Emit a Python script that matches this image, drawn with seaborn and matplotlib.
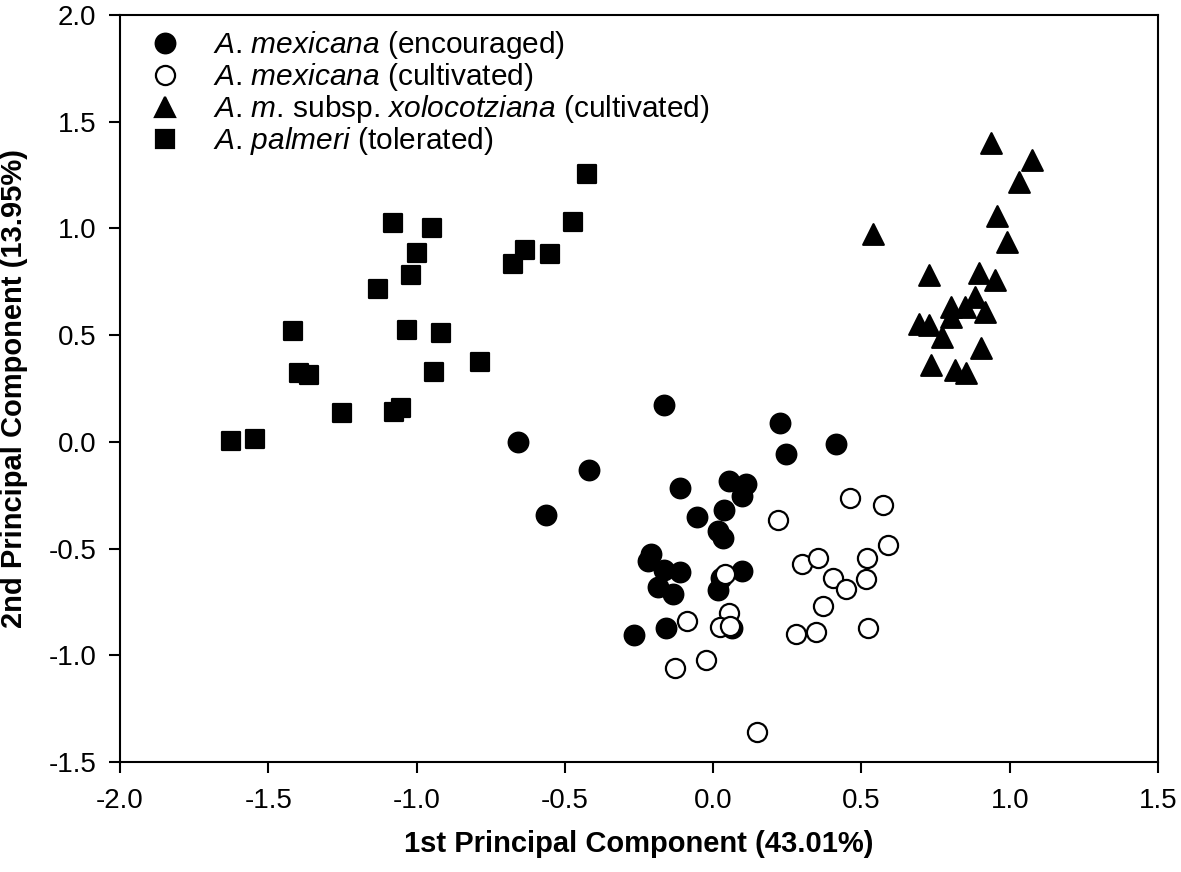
import numpy as np
import pandas as pd
import seaborn as sns
import matplotlib
matplotlib.use("Agg")
import matplotlib.pyplot as plt
from matplotlib.lines import Line2D

# A. mexicana (encouraged) - dolu daireler
enc_x = [-0.167, -0.657, 0.227, 0.414, 0.247, -0.418, -0.563, -0.111, 0.053, 0.112,
         0.097, 0.038, -0.053, 0.017, 0.033, -0.210, -0.221, -0.165, -0.111, -0.187,
         -0.135, 0.099, 0.025, 0.018, -0.266, -0.159, 0.065]
enc_y = [0.172, 0.000, 0.089, -0.009, -0.055, -0.130, -0.343, -0.214, -0.183, -0.197,
         -0.254, -0.318, -0.354, -0.418, -0.448, -0.523, -0.557, -0.598, -0.609, -0.682,
         -0.712, -0.604, -0.640, -0.696, -0.905, -0.874, -0.874]

# A. mexicana (cultivated) - boş daireler
cult_x = [0.462, 0.574, 0.218, 0.590, 0.518, 0.301, 0.352, 0.403, 0.448, 0.517,
          0.370, 0.279, 0.346, 0.521, 0.040, 0.053, 0.023, 0.057, -0.088, -0.025,
          -0.130, 0.147]
cult_y = [-0.261, -0.297, -0.367, -0.484, -0.546, -0.570, -0.542, -0.636, -0.690, -0.643,
          -0.770, -0.901, -0.893, -0.870, -0.621, -0.804, -0.866, -0.862, -0.840, -1.024,
          -1.060, -1.358]

# A. m. subsp. xolocotziana (cultivated) - üçgenler
xolo_x = [0.938, 1.076, 1.033, 0.538, 0.956, 0.991, 0.728, 0.898, 0.951, 0.883,
          0.801, 0.850, 0.918, 0.802, 0.693, 0.728, 0.772, 0.903, 0.733, 0.816, 0.853]
xolo_y = [1.399, 1.321, 1.216, 0.975, 1.058, 0.938, 0.783, 0.791, 0.757, 0.680,
          0.634, 0.634, 0.607, 0.586, 0.551, 0.546, 0.490, 0.438, 0.361, 0.337, 0.321]

# A. palmeri (tolerated) - kareler
palm_x = [-0.425, -1.080, -0.948, -0.472, -1.000, -0.633, -0.674, -0.551, -1.018, -1.130,
          -1.417, -1.033, -0.919, -0.787, -1.397, -1.361, -0.941, -1.253, -1.076, -1.051,
          -1.627, -1.544]
palm_y = [1.255, 1.025, 1.002, 1.030, 0.884, 0.900, 0.834, 0.879, 0.780, 0.715,
          0.520, 0.523, 0.509, 0.373, 0.325, 0.312, 0.328, 0.136, 0.139, 0.159,
          0.006, 0.014]

groups = ["enc", "cult", "xolo", "palm"]
# nokta italik dışında tutuluyor (mathtext noktalama sonrası boşluk ekliyor)
labels = [r"$\it{A}$. $\it{mexicana}$ (encouraged)",
          r"$\it{A}$. $\it{mexicana}$ (cultivated)",
          r"$\it{A}$. $\it{m}$. subsp. $\it{xolocotziana}$ (cultivated)",
          r"$\it{A}$. $\it{palmeri}$ (tolerated)"]

x_ticks = [-2.0, -1.5, -1.0, -0.5, 0.0, 0.5, 1.0, 1.5]
y_ticks = [-1.5, -1.0, -0.5, 0.0, 0.5, 1.0, 1.5, 2.0]

df = pd.concat([
    pd.DataFrame({"pc1": enc_x, "pc2": enc_y, "grp": "enc"}),
    pd.DataFrame({"pc1": cult_x, "pc2": cult_y, "grp": "cult"}),
    pd.DataFrame({"pc1": xolo_x, "pc2": xolo_y, "grp": "xolo"}),
    pd.DataFrame({"pc1": palm_x, "pc2": palm_y, "grp": "palm"}),
], ignore_index=True)

sns.set_style("ticks")
plt.rcParams["font.family"] = ["Liberation Sans", "DejaVu Sans"]
plt.rcParams["mathtext.fontset"] = "custom"
plt.rcParams["mathtext.it"] = "Liberation Sans:italic"
plt.rcParams["mathtext.rm"] = "Liberation Sans"
plt.rcParams["text.color"] = "black"
plt.rcParams["axes.labelcolor"] = "black"
plt.rcParams["xtick.color"] = "black"
plt.rcParams["ytick.color"] = "black"

fig = plt.figure(figsize=(11.81, 8.72), dpi=100)
ax = fig.add_axes([0.1016, 0.1261, 0.8789, 0.8567])

styles = {
    "enc": dict(marker="o", facecolor="black", s=200),
    "cult": dict(marker="o", facecolor="white", s=190),
    "xolo": dict(marker="^", facecolor="black", s=220),
    "palm": dict(marker="s", facecolor="black", s=175),
}

for g in groups:
    st = styles[g]
    sub = df[df["grp"] == g]
    sns.scatterplot(data=sub, x="pc1", y="pc2", ax=ax, marker=st["marker"],
                    color=st["facecolor"], edgecolor="black", linewidth=1.6,
                    s=st["s"], legend=False, zorder=3)

ax.set_xlim(-2.0, 1.5)
ax.set_ylim(-1.5, 2.0)
ax.set_xticks(x_ticks)
ax.set_yticks(y_ticks)
ax.set_xticklabels([f"{v:.1f}" for v in x_ticks])
ax.set_yticklabels([f"{v:.1f}" for v in y_ticks])
ax.tick_params(axis="both", which="major", direction="out", length=8, width=1.5,
               labelsize=20, top=False, right=False)
ax.tick_params(axis="x", pad=11)
ax.tick_params(axis="y", pad=9)
for sp in ax.spines.values():
    sp.set_visible(True)
    sp.set_linewidth(1.5)
    sp.set_color("black")

ax.set_xlabel("1st Principal Component (43.01%)", fontsize=21, fontweight="bold")
ax.set_ylabel("2nd Principal Component (13.95%)", fontsize=21, fontweight="bold")
ax.xaxis.set_label_coords(0.5, -0.091)
ax.yaxis.set_label_coords(-0.089, 0.5)

handles = []
for g in groups:
    st = styles[g]
    handles.append(Line2D([], [], linestyle="none", marker=st["marker"],
                          markerfacecolor=st["facecolor"], markeredgecolor="black",
                          markeredgewidth=1.6, markersize=np.sqrt(st["s"])))
ax.legend(handles, labels, loc="upper left", bbox_to_anchor=(0.031, 0.981),
          frameon=False, fontsize=21.5, handlelength=0.85, handletextpad=1.18,
          labelspacing=0.0, borderaxespad=0, borderpad=0)

fig.savefig("out.png", dpi=100)
